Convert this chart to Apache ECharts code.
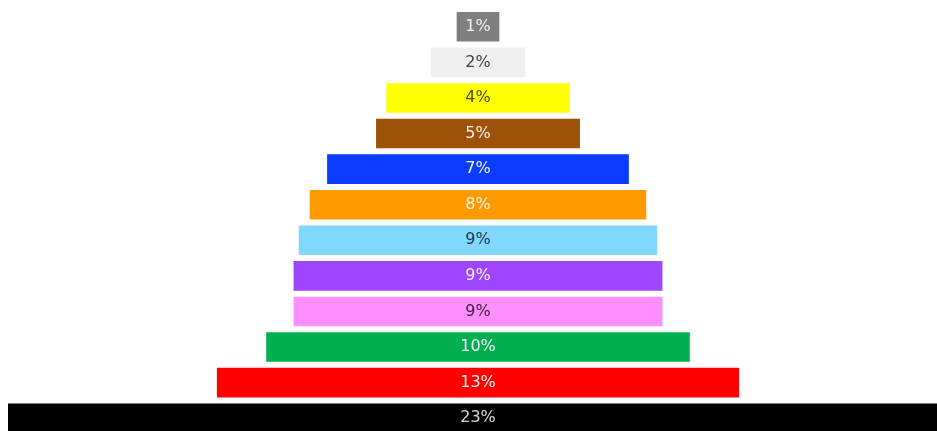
<!DOCTYPE html>
<html>
<head>
<meta charset="utf-8">
<script src="https://cdn.jsdelivr.net/npm/echarts@6/dist/echarts.min.js"></script>
<style>html,body{margin:0;padding:0;background:#fff}#c{width:937px;height:431px}</style>
</head>
<body>
<div id="c"></div>
<script>
// Data (top row first)
const categories = ['C1','C2','C3','C4','C5','C6','C7','C8','C9','C10','C11','C12'];
const values = [1.03, 2.28, 4.42, 4.92, 7.28, 8.12, 8.65, 8.90, 8.90, 10.22, 12.60, 22.68];
const barColors = ['#7f7f7f','#f0f0f0','#ffff00','#9e5209','#0a3cff','#ff9900','#80d8ff','#9e45ff','#ff8fff','#00b050','#ff0000','#000000'];
const labelColors = ['#f2f2f2','#404040','#4d4d00','#f2f2f2','#f2f2f2','#fff2e0','#1a3340','#f2f2f2','#402040','#f2f2f2','#f2f2f2','#d9d9d9'];

const maxV = Math.max(...values);
const spacer = values.map(v => (maxV - v) / 2);

const chart = echarts.init(document.getElementById('c'), null, {renderer: 'canvas'});
chart.setOption({
  animation: false,
  backgroundColor: '#ffffff',
  grid: {left: 8, top: 9, width: 940, height: 427, containLabel: false, outerBoundsMode: 'none'},
  xAxis: {type: 'value', min: 0, max: maxV, show: false},
  yAxis: {type: 'category', data: categories, inverse: true, show: false},
  series: [
    {
      type: 'bar', stack: 't', data: spacer, barCategoryGap: '17%',
      itemStyle: {color: 'rgba(0,0,0,0)'}, silent: true
    },
    {
      type: 'bar', stack: 't', barCategoryGap: '17%',
      data: values.map((v, i) => ({
        value: v,
        itemStyle: {color: barColors[i]},
        label: {color: labelColors[i]}
      })),
      label: {
        show: true, position: 'inside',
        fontFamily: 'DejaVu Sans', fontSize: 16,
        formatter: p => Math.round(p.value) + '%'
      }
    }
  ]
});
</script>
</body>
</html>
